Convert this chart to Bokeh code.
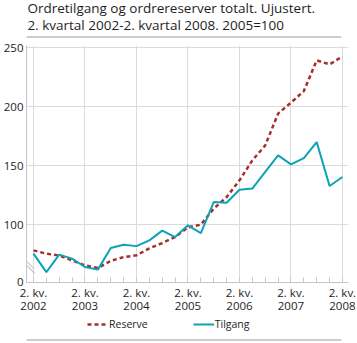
from bokeh.plotting import figure
from bokeh.layouts import column
from bokeh.models import (FixedTicker, Legend, LegendItem, ColumnDataSource, Range1d)
from bokeh.core.properties import value
from bokeh.embed import file_html
from bokeh.resources import INLINE

# ---- data (quarterly index, 2005=100) ----
periods = ["2002K2", "2002K3", "2002K4", "2003K1", "2003K2", "2003K3", "2003K4",
           "2004K1", "2004K2", "2004K3", "2004K4", "2005K1", "2005K2", "2005K3",
           "2005K4", "2006K1", "2006K2", "2006K3", "2006K4", "2007K1", "2007K2",
           "2007K3", "2007K4", "2008K1", "2008K2"]
reserve = [78.4, 75.6, 74.0, 69.9, 65.7, 63.4, 69.5, 72.7, 74.2, 80.1, 84.6, 89.7,
           97.9, 100.2, 113.7, 123.5, 137.7, 154.6, 167.3, 194.2, 203.5, 213.3,
           239.3, 235.9, 242.7]
tilgang = [75.6, 60.0, 74.8, 71.4, 64.3, 62.1, 80.4, 83.2, 82.0, 86.9, 95.1, 89.7,
           99.6, 93.1, 119.3, 118.8, 129.8, 130.7, 144.9, 158.8, 151.2, 156.6,
           170.1, 132.9, 140.5]
tick_labels = ["2. kv.\n2002", "2. kv.\n2003", "2. kv.\n2004", "2. kv.\n2005",
               "2. kv.\n2006", "2. kv.\n2007", "2. kv.\n2008"]
y_ticks = [100, 150, 200, 250]
title_lines = ["Ordretilgang og ordrereserver totalt. Ujustert.",
               "2. kvartal 2002-2. kvartal 2008. 2005=100"]
series_names = ["Reserve", "Tilgang"]

FONT = "Open Sans"
TXT = "#1e1e1e"
GRID = "#d9dbe0"
AXIS = "#c4c6cc"
SEP = "#9a9a9a"
RED = "#a3302c"
TEAL = "#0da3b3"
W = 357

idx = list(range(len(periods)))
src = ColumnDataSource(dict(x=idx, period=periods, reserve=reserve, tilgang=tilgang))


def bare(fig):
    fig.outline_line_color = None
    fig.grid.grid_line_color = None
    fig.background_fill_color = "white"
    fig.border_fill_color = "white"
    return fig


# ---------------- header: title + rule ----------------
HH = 38
head = bare(figure(width=W, height=HH, output_backend="svg", toolbar_location=None,
                   x_range=Range1d(0, W), y_range=Range1d(HH, 0),
                   x_axis_location=None, y_axis_location=None, min_border=0))
head.text(x=[1, 1], y=[-2, 15], text=title_lines, text_baseline="top",
          text_font=value(FONT), text_font_size="13.5px", text_color=TXT)
head.segment(x0=[0], y0=[36.5], x1=[350], y1=[36.5], line_color=SEP, line_width=1)

# ---------------- main chart ----------------
Y0 = 52  # bottom of (broken) axis, labelled 0

p = figure(frame_width=322, frame_height=237, output_backend="svg",
           toolbar_location=None,
           x_range=Range1d(-0.544, 24.47), y_range=Range1d(51.2, 251.9),
           min_border_left=25, min_border_right=10, min_border_top=7,
           min_border_bottom=34)
p.outline_line_color = None
p.background_fill_color = "white"
p.border_fill_color = "white"

year_ticks = idx[::4]
p.xaxis.ticker = FixedTicker(ticks=year_ticks, minor_ticks=idx)
p.xaxis.major_label_overrides = {t: lab for t, lab in zip(year_ticks, tick_labels)}
p.xaxis.major_tick_in = 5
p.xaxis.major_tick_out = 0
p.xaxis.minor_tick_in = 5
p.xaxis.minor_tick_out = 0
p.xaxis.axis_line_color = AXIS
p.xaxis.major_tick_line_color = AXIS
p.xaxis.minor_tick_line_color = AXIS
p.xaxis.major_label_standoff = 2
p.xaxis.major_label_text_line_height = 0.93
p.xaxis.axis_label_standoff = 0

p.yaxis.ticker = FixedTicker(ticks=[Y0] + y_ticks)
p.yaxis.major_label_overrides = {Y0: "0"}
p.yaxis.major_tick_in = 0
p.yaxis.major_tick_out = 0
p.yaxis.minor_tick_line_color = None
p.yaxis.axis_line_color = AXIS
p.yaxis.major_label_standoff = 3

for ax in (p.xaxis[0], p.yaxis[0]):
    ax.major_label_text_font = FONT
    ax.major_label_text_font_size = "11.5px"
    ax.major_label_text_color = TXT

p.xgrid.ticker = FixedTicker(ticks=year_ticks)
p.ygrid.ticker = FixedTicker(ticks=y_ticks)
p.xgrid.grid_line_color = GRID
p.ygrid.grid_line_color = GRID

# axis break marks
p.segment(x0=[-0.62, -0.62], y0=[70.0, 66.5], x1=[0.08, 0.08], y1=[62.5, 59.0],
          line_color="#c8c8c8", line_width=1.2)

p.line("x", "reserve", source=src, line_color=RED, line_width=2.5, line_dash="4 3")
p.line("x", "tilgang", source=src, line_color=TEAL, line_width=2)

# ---------------- footer: legend + rule ----------------
FH = 27
foot = bare(figure(width=W, height=FH, output_backend="svg", toolbar_location=None,
                   x_range=Range1d(0, W), y_range=Range1d(FH, 0),
                   x_axis_location=None, y_axis_location=None, min_border=0))
# same series, out of this strip's y-range: only used as legend proxies
lr = foot.line("x", "reserve", source=src, line_color=RED, line_width=2.5,
               line_dash="4 3")
lt = foot.line("x", "tilgang", source=src, line_color=TEAL, line_width=2)
foot.segment(x0=[0], y0=[23.5], x1=[350], y1=[23.5], line_color=SEP, line_width=1)
legend = Legend(items=[LegendItem(label=series_names[0], renderers=[lr]),
                       LegendItem(label=series_names[1], renderers=[lt])],
                orientation="horizontal", location=(61, 12),
                padding=0, margin=0, spacing=45, glyph_width=21, glyph_height=14,
                label_standoff=1, label_height=14,
                border_line_color=None, background_fill_alpha=0,
                label_text_font=FONT, label_text_font_size="10.5px",
                label_text_color=TXT)
foot.add_layout(legend, "center")

layout = column(head, p, foot, spacing=0)
open("out.html", "w").write(file_html(layout, INLINE))
